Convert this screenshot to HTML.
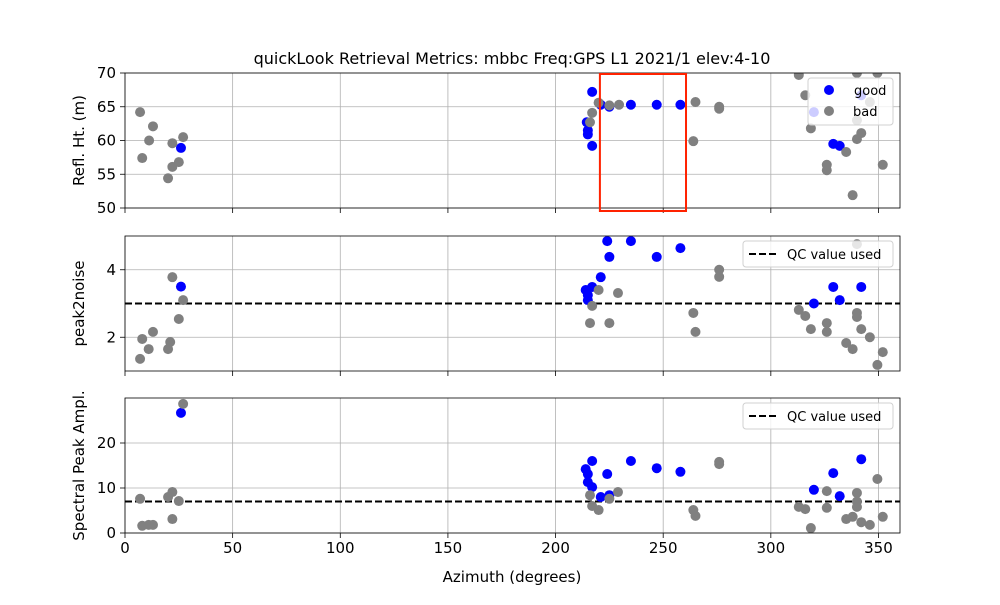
<!DOCTYPE html>
<html><head><meta charset="utf-8"><style>
body{margin:0;background:#fff}
svg text{font-family:"DejaVu Sans","Liberation Sans",sans-serif}
</style></head><body>
<svg id="chart" width="1000" height="600" xmlns="http://www.w3.org/2000/svg"></svg>
<script>
// Panel 1: reflector height
const rhGoodAz=[26,217,214.5,215,215,217,221,225,235,247,258,329,332,320,342];
const rhGoodVal=[58.9,67.2,62.7,61.5,60.9,59.2,65.3,65,65.3,65.3,65.3,59.5,59.2,64.2,66.7];
const rhBadAz=[7,8,11.2,13,22,22,20,25,27,217,216,220,225,229.5,265,276,276,264,313,316,318.6,326,326,335,338,340,340,342,340,346,349.5,352];
const rhBadVal=[64.2,57.4,60,62.1,59.6,56.1,54.4,56.8,60.5,64.1,62.7,65.6,65.2,65.3,65.7,65,64.7,59.9,69.7,66.7,61.8,56.4,55.6,58.3,51.9,70,60.2,61.1,63,65.7,70,56.4];
// Panel 2: peak2noise
const pnGoodAz=[224,235,225,247,258,221,217,214,215,215,329,342,320,332,26];
const pnGoodVal=[4.85,4.85,4.38,4.38,4.64,3.78,3.49,3.4,3.25,3.1,3.49,3.49,3.0,3.1,3.5];
const pnBadAz=[220,229,217,216,225,264,265,276,276,313,316,318.6,326,326,335,338,340,340,340,342,346,349.5,352,7,8,11,13,22,21,20,25,27];
const pnBadVal=[3.4,3.31,2.93,2.42,2.42,2.72,2.16,4.0,3.79,2.81,2.63,2.24,2.42,2.16,1.83,1.65,4.76,2.72,2.6,2.24,2.0,1.18,1.56,1.36,1.95,1.65,2.16,3.78,1.86,1.65,2.54,3.1];
// Panel 3: spectral peak amplitude
const amGoodAz=[217,214,215,215,217,224,221,225,235,247,258,320,329,332,342,26];
const amGoodVal=[16,14.2,13.1,11.3,10.2,13.1,8,8.4,16,14.4,13.6,9.6,13.3,8.2,16.4,26.7];
const amBadAz=[216,217,220,225,229,264,265,276,276,313,316,318.6,326,326,335,338,340,340,340,342,346,349.5,352,7,8,11,13,20,22,22,25,27];
const amBadVal=[8.4,6,5.1,7.6,9.1,5.1,3.8,15.8,15.3,5.8,5.3,1.1,9.3,5.6,3.1,3.6,8.9,7,5.8,2.4,1.8,12,3.6,7.6,1.6,1.8,1.8,8,9.1,3.1,7.1,28.7];
const xTicks=[0,50,100,150,200,250,300,350];
const qcPeak=3, qcAmp=7;

const NS='http://www.w3.org/2000/svg';
const svg=document.getElementById('chart');
const X0=125,X1=900;
const xs=a=>X0+(a/360)*(X1-X0);
function mk(tag,attrs,parent){const e=document.createElementNS(NS,tag);for(const k in attrs)e.setAttribute(k,attrs[k]);(parent||svg).appendChild(e);return e;}
function txt(s,attrs,name){const t=mk('text',attrs);t.textContent=s;


return t;}

const panels=[
 {name:'refl-ht',top:73,bot:208,min:50,max:70,ticks:[50,55,60,65,70],label:'Refl. Ht. (m)',ga:rhGoodAz,gv:rhGoodVal,ba:rhBadAz,bv:rhBadVal,qc:null},
 {name:'peak2noise',top:236,bot:371,min:1,max:5,ticks:[2,4],label:'peak2noise',ga:pnGoodAz,gv:pnGoodVal,ba:pnBadAz,bv:pnBadVal,qc:qcPeak},
 {name:'spectral-amp',top:398,bot:533,min:0,max:30,ticks:[0,10,20],label:'Spectral Peak Ampl.',ga:amGoodAz,gv:amGoodVal,ba:amBadAz,bv:amBadVal,qc:qcAmp}
];

panels.forEach((p,pi)=>{
 const ys=v=>p.bot-(v-p.min)/(p.max-p.min)*(p.bot-p.top);
 const g=mk('g',{});
 
 
 const clip=mk('clipPath',{id:'c'+pi});
 mk('rect',{x:X0,y:p.top,width:X1-X0,height:p.bot-p.top},clip);
 // grid
 xTicks.forEach(t=>{const l=mk('line',{x1:xs(t),x2:xs(t),y1:p.top,y2:p.bot,stroke:'#b0b0b0','stroke-width':0.8},g);
  
  
  mk('line',{x1:xs(t),x2:xs(t),y1:p.bot,y2:p.bot+5,stroke:'#000','stroke-width':0.8},g);
  if(pi===2){txt(String(t),{x:xs(t),y:p.bot+20,'font-size':15,'text-anchor':'middle'},'x-tick-label');}
 });
 p.ticks.forEach(t=>{const l=mk('line',{x1:X0,x2:X1,y1:ys(t),y2:ys(t),stroke:'#b0b0b0','stroke-width':0.8},g);
  
  
  mk('line',{x1:X0-5,x2:X0,y1:ys(t),y2:ys(t),stroke:'#000','stroke-width':0.8},g);
  txt(String(t),{x:X0-9,y:ys(t)+5,'font-size':15,'text-anchor':'end'},'y-tick-label');
 });
 const dg=mk('g',{'clip-path':'url(#c'+pi+')'},g);
 if(p.qc!==null){const q=mk('line',{x1:X0,x2:X1,y1:ys(p.qc),y2:ys(p.qc),stroke:'#000','stroke-width':2,'stroke-dasharray':'7,3'},dg);
  
  }
 p.ga.forEach((a,i)=>{const c=mk('circle',{cx:xs(a),cy:ys(p.gv[i]),r:5,fill:'#0000ff'},dg);
  
  });
 p.ba.forEach((a,i)=>{const c=mk('circle',{cx:xs(a),cy:ys(p.bv[i]),r:5,fill:'#808080'},dg);
  
  });
 const fr=mk('rect',{x:X0,y:p.top,width:X1-X0,height:p.bot-p.top,fill:'none',stroke:'#000','stroke-width':0.8},g);
 
 
 const my=(p.top+p.bot)/2;
 txt(p.label,{x:84,y:my,'font-size':15,'text-anchor':'middle',transform:'rotate(-90 84 '+my+')'},'y-axis-title');
 if(p.qc!==null){
  const lg=mk('g',{});
  
  
  mk('rect',{x:743,y:p.top+5,width:150,height:26,rx:3,fill:'rgba(255,255,255,0.8)',stroke:'#d0d0d0'},lg);
  mk('line',{x1:749,x2:777,y1:p.top+18,y2:p.top+18,stroke:'#000','stroke-width':2,'stroke-dasharray':'7,3'},lg);
  txt('QC value used',{x:787,y:p.top+23,'font-size':13},'legend-entry-qc');
 }
 if(pi===0){
  // red box
  const rb=mk('rect',{x:xs(220.6),y:74,width:xs(260.6)-xs(220.6),height:137,fill:'none',stroke:'#ff2200','stroke-width':2});
  
  
  const lg=mk('g',{});
  
  
  mk('rect',{x:808,y:78,width:85,height:47,rx:3,fill:'rgba(255,255,255,0.8)',stroke:'#d0d0d0'},lg);
  mk('circle',{cx:829,cy:90,r:5,fill:'#0000ff'},lg);
  mk('circle',{cx:829,cy:111,r:5,fill:'#808080'},lg);
  txt('good',{x:854,y:95,'font-size':13},'legend-entry-good');
  txt('bad',{x:853,y:116,'font-size':13},'legend-entry-bad');
 }
});
txt('quickLook Retrieval Metrics: mbbc Freq:GPS L1 2021/1  elev:4-10',{x:512,y:64,'font-size':16,'text-anchor':'middle','xml:space':'preserve'},'chart-title');
txt('Azimuth (degrees)',{x:512,y:582,'font-size':15,'text-anchor':'middle'},'x-axis-title');
</script>
</body></html>
